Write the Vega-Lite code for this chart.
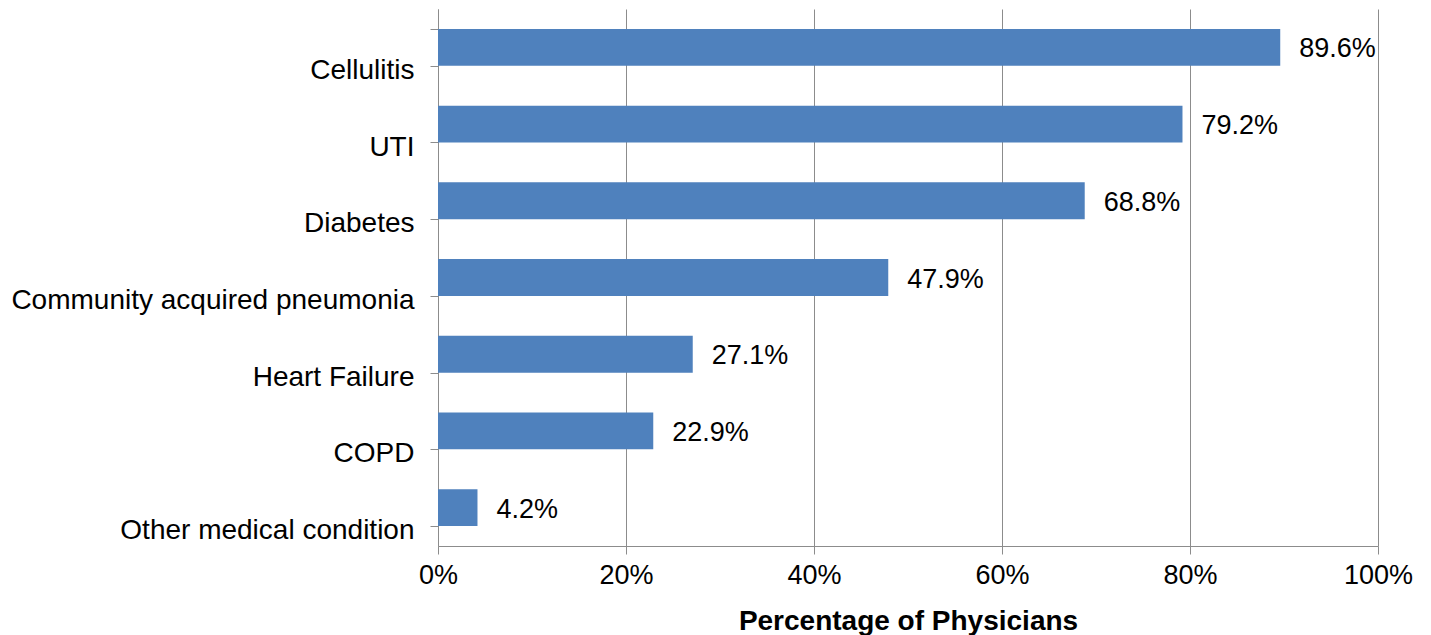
{
  "$schema": "https://vega.github.io/schema/vega-lite/v6.json",
  "width": 940,
  "height": 537,
  "autosize": {"type": "none"},
  "padding": {"left": 438, "top": 9, "right": 53, "bottom": 89},
  "background": "white",
  "config": {
    "font": "Liberation Sans",
    "view": {"stroke": null}
  },
  "data": {
    "values": [
      {"condition": "Cellulitis", "value": 0.896},
      {"condition": "UTI", "value": 0.792},
      {"condition": "Diabetes", "value": 0.688},
      {"condition": "Community acquired pneumonia", "value": 0.479},
      {"condition": "Heart Failure", "value": 0.271},
      {"condition": "COPD", "value": 0.229},
      {"condition": "Other medical condition", "value": 0.042}
    ]
  },
  "encoding": {
    "y": {
      "field": "condition",
      "type": "nominal",
      "sort": null,
      "scale": {"paddingInner": 0.52, "paddingOuter": 0.26},
      "axis": {
        "title": null,
        "labelFont": "Liberation Sans",
        "labelFontSize": 28,
        "labelColor": "#000000",
        "labelOffset": 23,
        "labelPadding": 16,
        "labelLimit": 600,
        "tickBand": "extent",
        "tickSize": 8,
        "tickColor": "#8c8c8c",
        "domainColor": "#8c8c8c",
        "grid": false
      }
    },
    "x": {
      "field": "value",
      "type": "quantitative",
      "scale": {"domain": [0, 1], "nice": false},
      "axis": {
        "title": "Percentage of Physicians",
        "titleFont": "Liberation Sans",
        "titleFontSize": 28,
        "titleFontWeight": "bold",
        "titleColor": "#000000",
        "titlePadding": 19,
        "format": "%",
        "values": [0, 0.2, 0.4, 0.6, 0.8, 1],
        "labelFont": "Liberation Sans",
        "labelFontSize": 27,
        "labelColor": "#000000",
        "labelPadding": 8,
        "labelFlush": false,
        "tickSize": 8,
        "tickColor": "#8c8c8c",
        "domainColor": "#8c8c8c",
        "grid": true,
        "gridColor": "#8c8c8c",
        "gridWidth": 1
      }
    }
  },
  "layer": [
    {
      "mark": {"type": "bar", "color": "#4f81bd"}
    },
    {
      "mark": {"type": "text", "align": "left", "baseline": "middle", "dx": 19, "dy": 2, "fontSize": 27, "font": "Liberation Sans", "color": "#000000"},
      "encoding": {
        "text": {"field": "value", "type": "quantitative", "format": ".1%"}
      }
    }
  ]
}
